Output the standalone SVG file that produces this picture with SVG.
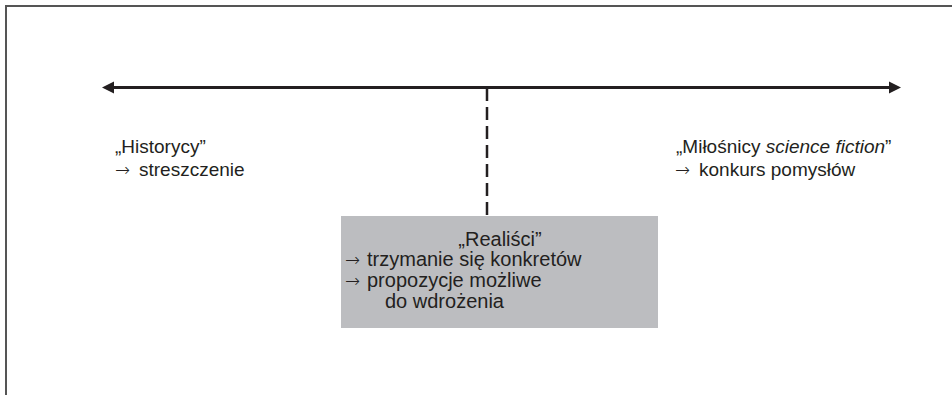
<svg xmlns="http://www.w3.org/2000/svg" width="952" height="395" viewBox="0 0 952 395">
  <style>
    .t { font-family: "Liberation Sans", Arial, sans-serif; font-size: 19px; fill: #231f20; }
    .b { font-size: 20px; }
    .a { font-family: "DejaVu Sans ExtraLight", "DejaVu Sans Light", "DejaVu Sans", sans-serif; font-weight: 200; font-size: 18px; }
    .i { font-style: italic; }
    .line { stroke: #231f20; fill: none; }
  </style>
  <rect width="952" height="395" fill="#ffffff"/>
  <path d="M6,395 V6 H952" fill="none" stroke="#555555" stroke-width="2"/>
  <g id="connectors">
    <line class="line" x1="112" y1="87.5" x2="891" y2="87.5" stroke-width="3"/>
    <polygon points="102,87.5 114,81.5 114,93.5" fill="#231f20"/>
    <polygon points="901,87.5 889,81.5 889,93.5" fill="#231f20"/>
    <line class="line" x1="487" y1="88" x2="487" y2="216" stroke-width="2.5" stroke-dasharray="13 6"/>
  </g>
  <g id="historycy">
    <text class="t" x="115" y="153">„Historycy”</text>
    <text class="t" x="115" y="176"><tspan class="a">→</tspan><tspan x="139">streszczenie</tspan></text>
  </g>
  <g id="milosnicy">
    <text class="t" x="676" y="153">„Miłośnicy <tspan class="i">science fiction</tspan>”</text>
    <text class="t" x="675" y="176"><tspan class="a">→</tspan><tspan x="699">konkurs pomysłów</tspan></text>
  </g>
  <g id="realisci">
    <rect x="341" y="216" width="317" height="112" fill="#bcbdc0"/>
    <text class="t b" x="500" y="246" text-anchor="middle">„Realiści”</text>
    <text class="t b" x="345" y="266"><tspan class="a">→</tspan><tspan x="367">trzymanie się konkretów</tspan></text>
    <text class="t b" x="345" y="287"><tspan class="a">→</tspan><tspan x="367">propozycje możliwe</tspan></text>
    <text class="t b" x="385" y="308">do wdrożenia</text>
  </g>
</svg>
